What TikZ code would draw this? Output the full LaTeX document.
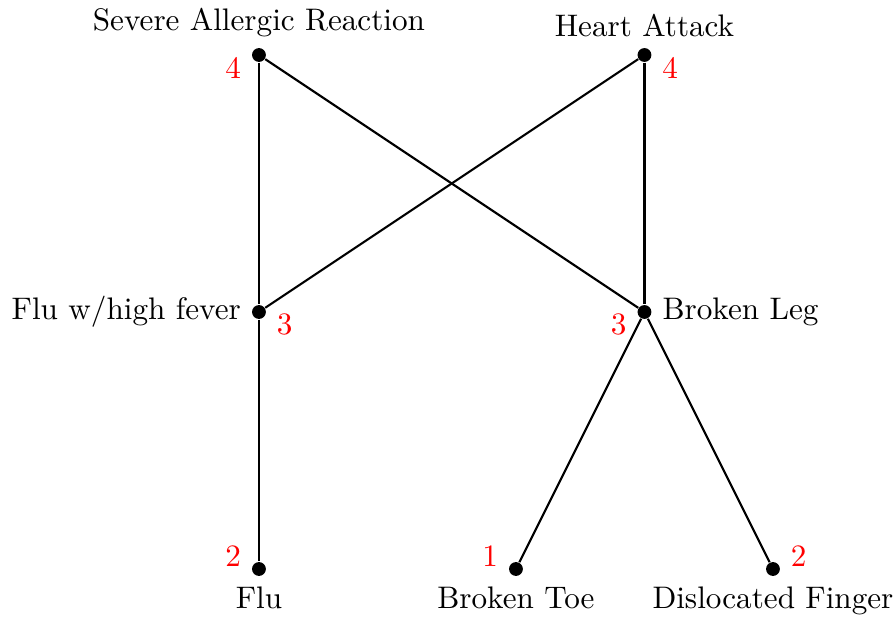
\documentclass[tikz,border=0pt]{standalone}
\begin{document}
\begin{tikzpicture}[
  every node/.style={font=\fontsize{10.35pt}{12.4pt}\selectfont},
  dot/.style={circle, fill=black, inner sep=0pt, minimum size=4.6pt},
  edge/.style={line width=0.7pt},
  num/.style={text=red, inner sep=0pt}
]
\useasboundingbox (-3.023,-0.560) rectangle (7.436,6.642);

% vertices of the ordering
\node[dot, label=above:{Severe Allergic Reaction}] (sar) at (0,6) {};
\node[dot, label=above:{Heart Attack}] (ha) at (4.5,6) {};
\node[dot, label=left:{Flu w/high fever}] (fhf) at (0,3) {};
\node[dot, label=right:{Broken Leg}] (bl) at (4.5,3) {};
\node[dot, label=below:{Flu}] (flu) at (0,0) {};
\node[dot, label=below:{Broken Toe}] (bt) at (3,0) {};
\node[dot, label=below:{Dislocated Finger}] (df) at (6,0) {};

% severity ranks
\node[num] (nsar) at ([shift={(-0.30,-0.15)}]sar) {4};
\node[num] (nha)  at ([shift={(0.30,-0.15)}]ha) {4};
\node[num] (nfhf) at ([shift={(0.30,-0.15)}]fhf) {3};
\node[num] (nbl)  at ([shift={(-0.30,-0.15)}]bl) {3};
\node[num] (nflu) at ([shift={(-0.30,0.15)}]flu) {2};
\node[num] (nbt)  at ([shift={(-0.30,0.15)}]bt) {1};
\node[num] (ndf)  at ([shift={(0.30,0.15)}]df) {2};

% covering relations
\draw[edge] (sar) -- (fhf);
\draw[edge] (sar) -- (bl);
\draw[edge] (ha) -- (fhf);
\draw[edge] (ha) -- (bl);
\draw[edge] (fhf) -- (flu);
\draw[edge] (bl) -- (bt);
\draw[edge] (bl) -- (df);
\end{tikzpicture}
\end{document}
